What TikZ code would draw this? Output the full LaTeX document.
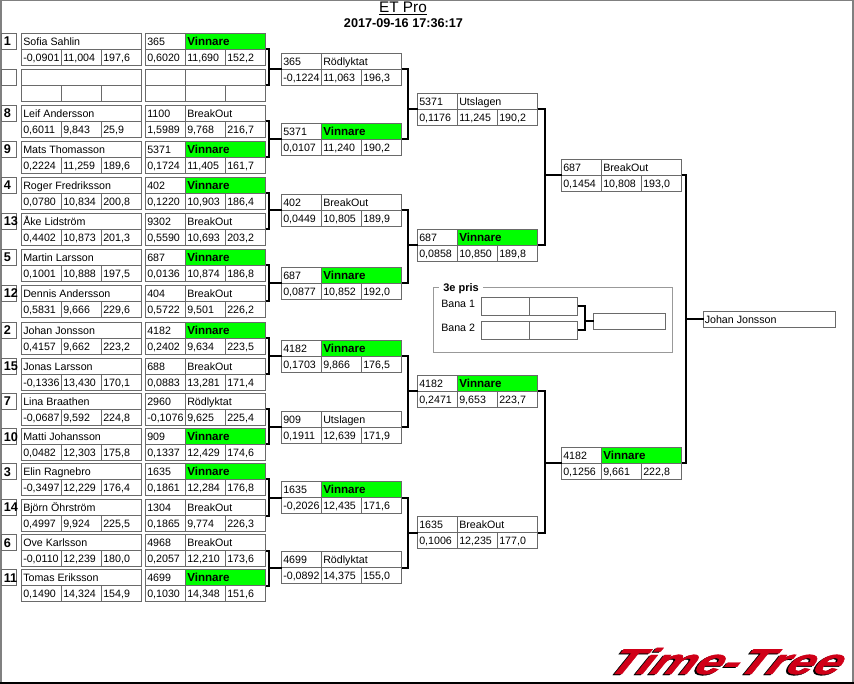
\documentclass[tikz,border=0pt]{standalone}
\usepackage{fontspec}
\setmainfont{Liberation Sans}
\newfontfamily\LogoFont[BoldItalicFeatures={FakeBold=1}]{Liberation Sans}
\usetikzlibrary{positioning}
\definecolor{CellGray}{HTML}{6A6A6A}
\definecolor{FrameGray}{HTML}{999999}
\definecolor{EdgeGray}{HTML}{808080}
\definecolor{WinGreen}{HTML}{00FF00}
\definecolor{LogoRed}{HTML}{D00018}
\newcommand{\CellFont}{\fontsize{8}{10}\selectfont}
\newcommand{\WinFont}{\fontsize{8.7}{10}\selectfont\bfseries}
\newcommand{\SeedFont}{\fontsize{9.5}{10}\selectfont\bfseries}
\tikzstyle{CardBox}=[draw=CellGray, line width=.75pt, fill=white, anchor=north west, inner sep=0pt, outer sep=0pt, minimum width=90pt, minimum height=24pt]
\tikzstyle{SeedBox}=[draw=CellGray, line width=.75pt, fill=white, anchor=north west, inner sep=0pt, outer sep=0pt, minimum width=11.25pt, minimum height=12pt]
\tikzstyle{LaneBox}=[draw=CellGray, line width=.75pt, inner sep=0pt, outer sep=0pt, anchor=north west, minimum width=72pt, minimum height=13.5pt]
\tikzstyle{WinCell}=[draw=CellGray, line width=.75pt, fill=WinGreen, anchor=north east, inner sep=0pt, outer sep=0pt, minimum width=60pt, minimum height=12pt]
\tikzstyle{EndBox}=[draw=CellGray, line width=.75pt, fill=white, anchor=north west, inner sep=0pt, outer sep=0pt, minimum height=12pt]
\tikzstyle{CellLine}=[draw=CellGray, line width=.75pt]
\tikzstyle{CellText}=[anchor=base west, inner sep=0pt, font=\CellFont]
\tikzstyle{LogoText}=[anchor=base, inner sep=0pt, transform shape, font=\fontsize{27}{27}\selectfont\LogoFont\bfseries\itshape]
\tikzstyle{Link}=[draw=black, line width=1.5pt]
\newcommand{\CardFrame}[2]{%
  \node[CardBox] (#1) at (#2) {};
  \draw[CellLine] (#1.west) -- (#1.east);
  \draw[CellLine] ([xshift=-15pt]#1.center) -- ([xshift=-15pt]#1.south);
  \draw[CellLine] ([xshift=15pt]#1.center) -- ([xshift=15pt]#1.south);
}
\newcommand{\CardNums}[4]{%
  \node[CellText] (#1r) at ([shift={(1.5,28)}]#1.north west) {#2};
  \node[CellText] (#1t) at ([shift={(41.5,28)}]#1.north west) {#3};
  \node[CellText] (#1s) at ([shift={(81.5,28)}]#1.north west) {#4};
}
% name, seed, top, racer, three values
\newcommand{\RacerCard}[7]{%
  \node[SeedBox] (#1n) at (1.5,#3) {};
  \node[CellText, font=\SeedFont] (#1m) at (3.5,#3+12.5) {#2};
  \CardFrame{#1}{21.5,#3}
  \node[CellText] (#1a) at ([shift={(1.5,12)}]#1.north west) {#4};
  \CardNums{#1}{#5}{#6}{#7}
}
% name, position, number, status, three values
\newcommand{\MatchCard}[7]{%
  \CardFrame{#1}{#2}
  \draw[CellLine] ([xshift=-15pt]#1.north) -- ([xshift=-15pt]#1.center);
  \node[CellText] (#1a) at ([shift={(1.5,12)}]#1.north west) {#3};
  \node[CellText] (#1b) at ([shift={(41.5,12)}]#1.north west) {#4};
  \CardNums{#1}{#5}{#6}{#7}
}
\newcommand{\WinCard}[6]{%
  \CardFrame{#1}{#2}
  \node[WinCell] (#1w) at (#1.north east) {};
  \draw[CellLine] ([xshift=-15pt]#1.north) -- ([xshift=-15pt]#1.center);
  \node[CellText] (#1a) at ([shift={(1.5,12)}]#1.north west) {#3};
  \node[CellText, font=\WinFont] (#1b) at ([shift={(41.5,12)}]#1.north west) {Vinnare};
  \CardNums{#1}{#4}{#5}{#6}
}
\begin{document}
\begin{tikzpicture}[x=.75pt, y=-.75pt]
  \useasboundingbox (0,0) rectangle (854,684);
  \fill[white] (0,0) rectangle (854,684);
  \draw[EdgeGray, line width=1.5pt] (.5,684) -- (.5,.5) -- (853,.5) -- (853,684);
  \draw[black, line width=1.5pt] (0,683) -- (854,683);

  \node[inner sep=0pt, anchor=base, font=\fontsize{11.5}{12}\selectfont] (title) at (403,13) {ET Pro};
  \draw[black, line width=.75pt] ([yshift=-1.2pt]title.base west) -- ([yshift=-1.2pt]title.base east);
  \node[inner sep=0pt, anchor=base, font=\fontsize{9.5}{10}\selectfont\bfseries] (stamp) at (403.5,28) {2017-09-16 17:36:17};

  \RacerCard{r1}{1}{33.5}{Sofia Sahlin}{-0,0901}{11,004}{197,6}
  \node[SeedBox] (r0n) at (1.5,69.5) {};
  \CardFrame{r0}{21.5,69.5}
  \RacerCard{r2}{8}{105.5}{Leif Andersson}{0,6011}{9,843}{25,9}
  \RacerCard{r3}{9}{141.5}{Mats Thomasson}{0,2224}{11,259}{189,6}
  \RacerCard{r4}{4}{177.5}{Roger Fredriksson}{0,0780}{10,834}{200,8}
  \RacerCard{r5}{13}{213.5}{Åke Lidström}{0,4402}{10,873}{201,3}
  \RacerCard{r6}{5}{249.5}{Martin Larsson}{0,1001}{10,888}{197,5}
  \RacerCard{r7}{12}{285.5}{Dennis Andersson}{0,5831}{9,666}{229,6}
  \RacerCard{r8}{2}{322.5}{Johan Jonsson}{0,4157}{9,662}{223,2}
  \RacerCard{r9}{15}{358.5}{Jonas Larsson}{-0,1336}{13,430}{170,1}
  \RacerCard{r10}{7}{393.5}{Lina Braathen}{-0,0687}{9,592}{224,8}
  \RacerCard{r11}{10}{428.5}{Matti Johansson}{0,0482}{12,303}{175,8}
  \RacerCard{r12}{3}{463.5}{Elin Ragnebro}{-0,3497}{12,229}{176,4}
  \RacerCard{r13}{14}{499.5}{Björn Öhrström}{0,4997}{9,924}{225,5}
  \RacerCard{r14}{6}{534.5}{Ove Karlsson}{-0,0110}{12,239}{180,0}
  \RacerCard{r15}{11}{569.5}{Tomas Eriksson}{0,1490}{14,324}{154,9}

  \WinCard{a1}{145.5,33.5}{365}{0,6020}{11,690}{152,2}
  \CardFrame{a2}{145.5,69.5}
  \draw[CellLine] ([xshift=-15pt]a2.north) -- ([xshift=-15pt]a2.center);
  \MatchCard{a3}{145.5,105.5}{1100}{BreakOut}{1,5989}{9,768}{216,7}
  \WinCard{a4}{145.5,141.5}{5371}{0,1724}{11,405}{161,7}
  \WinCard{a5}{145.5,177.5}{402}{0,1220}{10,903}{186,4}
  \MatchCard{a6}{145.5,213.5}{9302}{BreakOut}{0,5590}{10,693}{203,2}
  \WinCard{a7}{145.5,249.5}{687}{0,0136}{10,874}{186,8}
  \MatchCard{a8}{145.5,285.5}{404}{BreakOut}{0,5722}{9,501}{226,2}
  \WinCard{a9}{145.5,322.5}{4182}{0,2402}{9,634}{223,5}
  \MatchCard{a10}{145.5,358.5}{688}{BreakOut}{0,0883}{13,281}{171,4}
  \MatchCard{a11}{145.5,393.5}{2960}{Rödlyktat}{-0,1076}{9,625}{225,4}
  \WinCard{a12}{145.5,428.5}{909}{0,1337}{12,429}{174,6}
  \WinCard{a13}{145.5,463.5}{1635}{0,1861}{12,284}{176,8}
  \MatchCard{a14}{145.5,499.5}{1304}{BreakOut}{0,1865}{9,774}{226,3}
  \MatchCard{a15}{145.5,534.5}{4968}{BreakOut}{0,2057}{12,210}{173,6}
  \WinCard{a16}{145.5,569.5}{4699}{0,1030}{14,348}{151,6}

  \MatchCard{b1}{281.5,53.5}{365}{Rödlyktat}{-0,1224}{11,063}{196,3}
  \WinCard{b2}{281.5,123.5}{5371}{0,0107}{11,240}{190,2}
  \MatchCard{b3}{281.5,194.5}{402}{BreakOut}{0,0449}{10,805}{189,9}
  \WinCard{b4}{281.5,267.5}{687}{0,0877}{10,852}{192,0}
  \WinCard{b5}{281.5,340.5}{4182}{0,1703}{9,866}{176,5}
  \MatchCard{b6}{281.5,411.5}{909}{Utslagen}{0,1911}{12,639}{171,9}
  \WinCard{b7}{281.5,481.5}{1635}{-0,2026}{12,435}{171,6}
  \MatchCard{b8}{281.5,551.5}{4699}{Rödlyktat}{-0,0892}{14,375}{155,0}

  \MatchCard{c1}{417.5,93.5}{5371}{Utslagen}{0,1176}{11,245}{190,2}
  \WinCard{c2}{417.5,229.5}{687}{0,0858}{10,850}{189,8}
  \WinCard{c3}{417.5,375.5}{4182}{0,2471}{9,653}{223,7}
  \MatchCard{c4}{417.5,516.5}{1635}{BreakOut}{0,1006}{12,235}{177,0}

  \MatchCard{d1}{561.5,159.5}{687}{BreakOut}{0,1454}{10,808}{193,0}
  \WinCard{d2}{561.5,447.5}{4182}{0,1256}{9,661}{222,8}

  \node[EndBox, minimum width=99pt] (e) at (703.5,311.5) {};
  \node[CellText] (etext) at ([shift={(1,12)}]e.north west) {Johan Jonsson};

  \draw[Link] (a1.east) -- ++(3.5,0) |- (b1.west);
  \draw[Link] (a2.east) -- ++(3.5,0) |- (b1.west);
  \draw[Link] (a3.east) -- ++(3.5,0) |- (b2.west);
  \draw[Link] (a4.east) -- ++(3.5,0) |- (b2.west);
  \draw[Link] (a5.east) -- ++(3.5,0) |- (b3.west);
  \draw[Link] (a6.east) -- ++(3.5,0) |- (b3.west);
  \draw[Link] (a7.east) -- ++(3.5,0) |- (b4.west);
  \draw[Link] (a8.east) -- ++(3.5,0) |- (b4.west);
  \draw[Link] (a9.east) -- ++(3.5,0) |- (b5.west);
  \draw[Link] (a10.east) -- ++(3.5,0) |- (b5.west);
  \draw[Link] (a11.east) -- ++(3.5,0) |- (b6.west);
  \draw[Link] (a12.east) -- ++(3.5,0) |- (b6.west);
  \draw[Link] (a13.east) -- ++(3.5,0) |- (b7.west);
  \draw[Link] (a14.east) -- ++(3.5,0) |- (b7.west);
  \draw[Link] (a15.east) -- ++(3.5,0) |- (b8.west);
  \draw[Link] (a16.east) -- ++(3.5,0) |- (b8.west);
  \draw[Link] (b1.east) -- ++(6,0) |- (c1.west);
  \draw[Link] (b2.east) -- ++(6,0) |- (c1.west);
  \draw[Link] (b3.east) -- ++(6,0) |- (c2.west);
  \draw[Link] (b4.east) -- ++(6,0) |- (c2.west);
  \draw[Link] (b5.east) -- ++(6,0) |- (c3.west);
  \draw[Link] (b6.east) -- ++(6,0) |- (c3.west);
  \draw[Link] (b7.east) -- ++(6,0) |- (c4.west);
  \draw[Link] (b8.east) -- ++(6,0) |- (c4.west);
  \draw[Link] (c1.east) -- ++(7.5,0) |- (d1.west);
  \draw[Link] (c2.east) -- ++(7.5,0) |- (d1.west);
  \draw[Link] (c3.east) -- ++(7.5,0) |- (d2.west);
  \draw[Link] (c4.east) -- ++(7.5,0) |- (d2.west);
  \draw[Link] (d1.east) -- ++(4,0) |- (e.west);
  \draw[Link] (d2.east) -- ++(4,0) |- (e.west);

  \draw[draw=FrameGray, line width=.75pt] (433.5,287.5) rectangle (672.5,352.5);
  \node[CellText, fill=white, inner xsep=3pt, font=\fontsize{8.25}{10}\selectfont\bfseries] (third) at (439,292) {3e pris};
  \node[CellText] (lane1) at (441,308) {Bana 1};
  \node[CellText] (lane2) at (441,332) {Bana 2};
  \node[LaneBox] (p1) at (481.5,297.5) {};
  \node[LaneBox] (p2) at (481.5,321.5) {};
  \draw[CellLine] (p1.north) -- (p1.south);
  \draw[CellLine] (p2.north) -- (p2.south);
  \node[EndBox, minimum width=54pt] (p3) at (593.5,313.5) {};
  \draw[Link] (p1.east) -- ++(7.5,0) |- (p3.west);
  \draw[Link] (p2.east) -- ++(7.5,0) |- (p3.west);

  \begin{scope}[shift={(722,674)}, xscale=1.36, xslant=.4]
    \node[LogoText, black] (logoback) at (-1,1) {Time-Tree};
    \node[LogoText, LogoRed] (logo) at (0,0) {Time-Tree};
  \end{scope}
\end{tikzpicture}
\end{document}
